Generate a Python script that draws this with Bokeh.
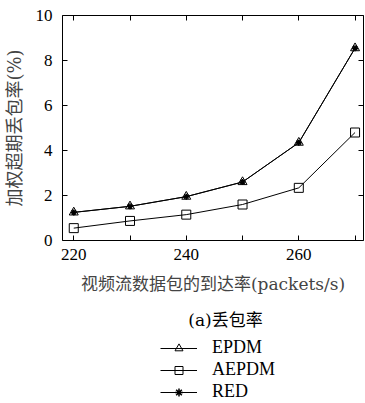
from bokeh.plotting import figure
from bokeh.layouts import column
from bokeh.models import (LinearAxis, FixedTicker, Legend, LegendItem, Label, Range1d)
from bokeh.embed import file_html
from bokeh.resources import INLINE

# arrival rate of video packets (packets/s)
rates = [220, 230, 240, 250, 260, 270]
# weighted overdue packet loss (%)
epdm = [1.25, 1.52, 1.95, 2.60, 4.35, 8.55]
aepdm = [0.55, 0.87, 1.15, 1.60, 2.34, 4.80]
red = [1.25, 1.52, 1.95, 2.60, 4.35, 8.55]

x_ticks = [220, 230, 240, 250, 260, 270]
x_tick_labels = {220: "220", 230: "", 240: "240", 250: "", 260: "260", 270: ""}
y_ticks = [0, 2, 4, 6, 8, 10]

SERIF = "Liberation Serif"
MIXED = "'DejaVu Serif', 'Noto Sans CJK SC'"

p = figure(width=365, height=305, output_backend="svg", toolbar_location=None,
           x_range=Range1d(218, 271.5), y_range=Range1d(0, 10),
           min_border_left=10, min_border_right=2, min_border_top=15,
           min_border_bottom=65, x_axis_location=None, y_axis_location=None)
p.xgrid.visible = False
p.ygrid.visible = False
p.outline_line_color = "black"
p.outline_line_width = 1
p.background_fill_color = "white"
p.border_fill_color = "white"


def style_axis(ax, show_labels):
    ax.axis_line_color = None
    ax.major_tick_in = 5
    ax.major_tick_out = 0
    ax.minor_tick_in = 0
    ax.minor_tick_out = 0
    ax.major_tick_line_color = "black"
    if show_labels:
        ax.major_label_text_font = SERIF
        ax.major_label_text_font_size = "17px"
        ax.major_label_text_color = "black"
    else:
        ax.major_label_text_font_size = "0px"
        ax.major_label_standoff = 0


xb = LinearAxis(ticker=FixedTicker(ticks=x_ticks), major_label_overrides=x_tick_labels)
style_axis(xb, True)
xb.major_label_standoff = 8
xb.axis_label = "视频流数据包的到达率(packets/s)"
xb.axis_label_text_font = MIXED
xb.axis_label_text_font_style = "normal"
xb.axis_label_text_font_size = "17px"
xb.axis_label_standoff = 11
p.add_layout(xb, "below")

yl = LinearAxis(ticker=FixedTicker(ticks=y_ticks))
style_axis(yl, True)
yl.major_label_standoff = 10
yl.axis_label = "加权超期丢包率(%)"
yl.axis_label_text_font = MIXED
yl.axis_label_text_font_style = "normal"
yl.axis_label_text_font_size = "18px"
yl.axis_label_standoff = 8
p.add_layout(yl, "left")

xt = LinearAxis(ticker=FixedTicker(ticks=x_ticks))
style_axis(xt, False)
p.add_layout(xt, "above")

yr = LinearAxis(ticker=FixedTicker(ticks=y_ticks))
style_axis(yr, False)
p.add_layout(yr, "right")

p.line(rates, epdm, line_color="black", line_width=1)
p.scatter(rates, epdm, marker="triangle", size=9, fill_color=None,
          line_color="black", line_width=1)
p.line(rates, aepdm, line_color="black", line_width=1)
p.scatter(rates, aepdm, marker="square", size=9, fill_color=None,
          line_color="black", line_width=1)
p.line(rates, red, line_color="black", line_width=1)
p.scatter(rates, red, marker="asterisk", size=6, line_color="black",
          line_width=1.5)

# caption and key, drawn in a strip under the chart; the strip's frame
# is aligned with the chart's frame, so x positions are frame-relative
k = figure(width=365, height=98, output_backend="svg", toolbar_location=None,
           x_range=Range1d(0, 1), y_range=Range1d(0, 1),
           min_border=0, x_axis_location=None, y_axis_location=None)
k.xgrid.visible = False
k.ygrid.visible = False
k.outline_line_color = None

caption = Label(x=163, y=84, x_units="screen", y_units="screen",
                text="(a)丢包率", text_align="center", text_baseline="middle",
                text_font=MIXED, text_font_size="17px", text_color="black")
k.add_layout(caption)

# key swatches reuse the series styles; their points lie outside this strip's range
kl1 = k.line(rates, epdm, line_color="black", line_width=1)
km1 = k.scatter(rates, epdm, marker="triangle", size=7, fill_color=None,
                line_color="black", line_width=1)
kl2 = k.line(rates, aepdm, line_color="black", line_width=1)
km2 = k.scatter(rates, aepdm, marker="square", size=7, fill_color=None,
                line_color="black", line_width=1)
kl3 = k.line(rates, red, line_color="black", line_width=1)
km3 = k.scatter(rates, red, marker="asterisk", size=5, line_color="black",
                line_width=1.5)

legend = Legend(items=[LegendItem(label="EPDM", renderers=[kl1, km1]),
                       LegendItem(label="AEPDM", renderers=[kl2, km2]),
                       LegendItem(label="RED", renderers=[kl3, km3])],
                orientation="vertical", location=(98, 1),
                label_text_font=SERIF, label_text_font_size="18px",
                label_text_color="black",
                glyph_width=37, glyph_height=20, label_height=20,
                spacing=1, padding=0, margin=0,
                label_standoff=15, border_line_color=None,
                background_fill_alpha=0)
k.add_layout(legend)

open("out.html", "w").write(file_html(column(p, k, spacing=0), INLINE))
